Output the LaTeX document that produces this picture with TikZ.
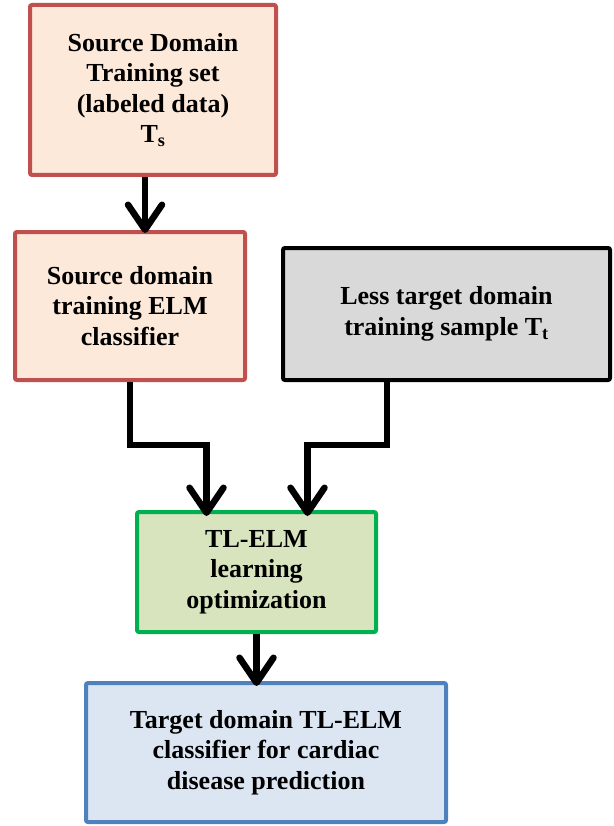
\documentclass[tikz,border=0pt]{standalone}
\usepackage{fontspec}
\setmainfont{Liberation Serif}
\usepackage{tikz}
\usetikzlibrary{positioning,calc,arrows.meta}

\definecolor{srcfill}{HTML}{FCE9DA}
\definecolor{srcline}{HTML}{C0504D}
\definecolor{greyfill}{HTML}{D9D9D9}
\definecolor{optfill}{HTML}{D7E4BD}
\definecolor{optline}{HTML}{00B050}
\definecolor{tgtfill}{HTML}{DCE6F2}
\definecolor{tgtline}{HTML}{4F81BD}

\tikzset{
  stagebox/.style={draw, line width=4pt, rounded corners=2pt, align=center,
    font=\fontsize{26}{30.5}\selectfont\bfseries, inner sep=0pt},
  flowarrow/.style={line width=6.5pt, -{Straight Barb[length=25pt, width=34pt, round]}}
}

\begin{document}
\begin{tikzpicture}[x=1pt, y=-1pt]
        \useasboundingbox (0,0) rectangle (613,826);
        % Define the nodes
        \node[stagebox, fill=srcfill, draw=srcline, minimum width=246pt, minimum height=170pt] (srcset) at (153,90)
          {Source Domain\\Training set\\(labeled data)\\T\textsubscript{s}};
        \node[stagebox, fill=srcfill, draw=srcline, minimum width=230pt, minimum height=148pt] (srcelm) at (130,306)
          {Source domain\\training ELM\\classifier};
        \node[stagebox, fill=greyfill, draw=black, minimum width=327pt, minimum height=132pt] (tgtsample) at (446.5,314)
          {Less target domain\\training sample T\textsubscript{t}};
        \node[stagebox, fill=optfill, draw=optline, minimum width=239pt, minimum height=120pt] (tlelm) at (256.5,572)
          {TL-ELM\\learning\\optimization};
        \node[stagebox, fill=tgtfill, draw=tgtline, minimum width=360pt, minimum height=139pt] (tgtclf) at (266,752.5)
          {Target domain TL-ELM\\classifier for cardiac\\disease prediction};

        % Draw the links
        \draw[flowarrow] ([xshift=-8]srcset.south) -- ([xshift=-8,yshift=-3]srcset.south |- srcelm.north);
        \draw[flowarrow] (srcelm.south) -- ++(0,63) -| ([xshift=-50,yshift=-6]tlelm.north);
        \draw[flowarrow] ([xshift=-59.5]tgtsample.south) -- ++(0,63) -| ([xshift=51,yshift=-6]tlelm.north);
        \draw[flowarrow] (tlelm.south) -- ([yshift=-5]tlelm.south |- tgtclf.north);
    \end{tikzpicture}
\end{document}
